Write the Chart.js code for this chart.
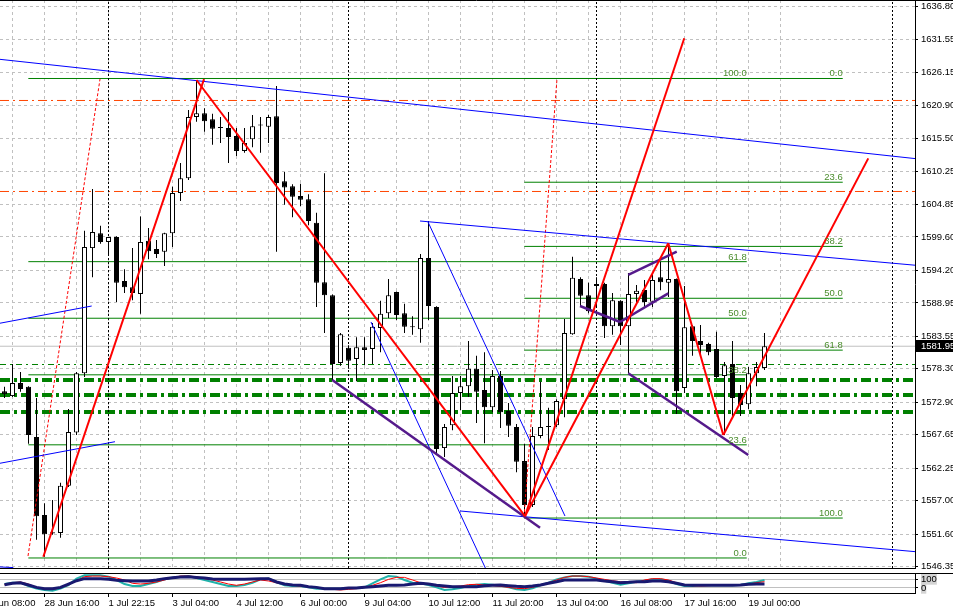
<!DOCTYPE html>
<html>
<head>
<meta charset="utf-8">
<title>XAUUSD H4</title>
<script src="https://cdn.jsdelivr.net/npm/chart.js@4.4.7/dist/chart.umd.min.js"></script>
<style>
  html, body { margin: 0; padding: 0; background: #fff; }
  #wrap { position: relative; width: 953px; height: 611px; overflow: hidden; }
  #priceChart { position: absolute; left: 0; top: 0; }
  #oscChart { position: absolute; left: 0; top: 571px; }
</style>
</head>
<body>
<div id="wrap">
  <canvas id="priceChart" width="953" height="576"></canvas>
  <canvas id="oscChart" width="953" height="40"></canvas>
</div>
<script>
// ===== ローソク足データ（H4, 96本） =====
const candleOpen = [
  1574.7, 1573.9, 1576.0, 1575.4, 1567.3, 1554.7, 1551.7, 1551.8, 1559.4, 1568.0,
  1577.6, 1597.8, 1600.2, 1598.8, 1599.6, 1592.5, 1591.5, 1590.4, 1599.0, 1597.66,
  1597.2, 1600.2, 1606.7, 1609.1, 1619.0, 1619.6, 1618.6, 1617.2, 1617.2, 1615.9,
  1613.5, 1615.4, 1617.7, 1617.4, 1619.1, 1608.6, 1607.8, 1606.2, 1605.7, 1601.9,
  1592.3, 1590.2, 1579.25, 1581.7, 1579.9, 1581.8, 1581.5, 1584.9, 1587.3, 1590.7,
  1587.3, 1585.1, 1584.7, 1596.2, 1588.3, 1565.5, 1569.2, 1574.4, 1575.5, 1578.3,
  1574.9, 1572.1, 1577.15, 1571.5, 1568.9, 1563.4, 1556.3, 1567.45, 1568.9, 1569.2,
  1573.4, 1583.9, 1592.8, 1590.2, 1591.7, 1592.0, 1585.2, 1589.3, 1585.2, 1590.4,
  1591.05, 1589.15, 1593.1, 1592.2, 1592.8, 1575.2, 1585.2, 1582.8, 1582.3, 1581.5,
  1577.15, 1579.1, 1574.4, 1572.6, 1577.6, 1578.45
];
const candleHigh = [
  1575.4, 1579.1, 1577.8, 1575.5, 1573.6, 1556.6, 1557.1, 1559.9, 1571.8, 1577.8,
  1600.6, 1607.35, 1601.4, 1599.6, 1599.7, 1594.4, 1597.8, 1602.9, 1601.05, 1599.1,
  1600.3, 1607.7, 1611.55, 1620.1, 1624.8, 1620.4, 1619.5, 1619.0, 1619.8, 1617.2,
  1617.2, 1619.3, 1619.0, 1619.3, 1624.0, 1610.1, 1608.1, 1608.2, 1606.5, 1603.5,
  1609.9, 1590.3, 1584.1, 1582.1, 1583.4, 1583.4, 1585.7, 1589.3, 1592.8, 1590.8,
  1588.8, 1586.8, 1596.85, 1602.2, 1588.4, 1569.4, 1577.15, 1577.15, 1582.8, 1580.4,
  1581.0, 1578.1, 1577.95, 1572.8, 1569.4, 1566.2, 1568.9, 1576.2, 1572.0, 1573.4,
  1586.35, 1596.4, 1593.1, 1592.2, 1593.1, 1592.2, 1590.55, 1589.4, 1593.8, 1591.85,
  1592.65, 1593.6, 1595.6, 1598.6, 1592.9, 1591.7, 1585.4, 1585.4, 1582.5, 1584.3,
  1579.4, 1582.8, 1575.7, 1578.6, 1579.4, 1584.1
];
const candleLow = [
  1573.6, 1573.75, 1574.6, 1566.2, 1550.7, 1547.95, 1551.5, 1551.0, 1559.2, 1567.6,
  1577.0, 1593.1, 1598.5, 1596.85, 1589.1, 1590.55, 1589.4, 1587.2, 1596.0, 1596.2,
  1594.9, 1598.0, 1605.4, 1608.8, 1618.2, 1616.6, 1614.5, 1614.8, 1611.55, 1612.7,
  1613.2, 1614.1, 1613.2, 1614.8, 1597.2, 1604.8, 1602.8, 1604.6, 1601.5, 1588.3,
  1584.1, 1576.5, 1578.8, 1578.3, 1576.3, 1578.9, 1579.1, 1581.0, 1586.5, 1586.2,
  1584.1, 1583.8, 1582.5, 1586.2, 1564.7, 1564.05, 1568.4, 1571.65, 1573.75, 1569.55,
  1566.3, 1571.3, 1568.75, 1567.3, 1561.6, 1554.4, 1556.0, 1567.1, 1565.2, 1568.9,
  1570.5, 1583.8, 1588.3, 1587.3, 1588.3, 1583.3, 1583.8, 1582.15, 1577.6, 1588.9,
  1588.3, 1588.3, 1591.0, 1589.9, 1571.0, 1574.4, 1580.4, 1580.4, 1580.5, 1576.8,
  1567.6, 1570.5, 1570.7, 1571.8, 1575.5, 1578.1
];
const candleClose = [
  1574.2, 1576.0, 1575.05, 1567.6, 1554.5, 1551.6, 1551.9, 1559.4, 1568.1, 1577.6,
  1598.0, 1600.4, 1598.8, 1599.6, 1592.2, 1591.5, 1590.55, 1598.8, 1597.3, 1596.85,
  1600.2, 1606.7, 1609.1, 1619.0, 1619.6, 1618.3, 1617.1, 1617.25, 1615.75, 1613.5,
  1614.8, 1617.5, 1617.6, 1619.0, 1608.3, 1607.6, 1606.1, 1605.6, 1602.2, 1592.2,
  1590.2, 1579.1, 1583.9, 1579.6, 1581.8, 1581.35, 1585.1, 1587.2, 1590.2, 1587.0,
  1585.1, 1585.0, 1596.2, 1588.45, 1565.35, 1568.9, 1574.4, 1575.5, 1578.3, 1574.6,
  1572.1, 1577.15, 1571.3, 1569.1, 1563.3, 1556.3, 1567.45, 1568.9, 1569.0, 1573.1,
  1584.1, 1593.0, 1590.1, 1587.6, 1592.0, 1585.2, 1589.4, 1585.2, 1590.4, 1590.9,
  1589.1, 1592.65, 1592.3, 1592.8, 1574.7, 1585.0, 1582.8, 1582.15, 1581.0, 1577.0,
  1578.9, 1573.6, 1572.45, 1577.6, 1578.6, 1581.95
];

// ===== 軸ラベル =====
const priceTicks = [
  1636.80, 1631.55, 1626.15, 1620.90, 1615.50, 1610.25, 1604.85, 1599.60, 1594.20,
  1588.95, 1583.55, 1578.30, 1572.90, 1567.65, 1562.25, 1557.00, 1551.60, 1546.35
];
const timeLabels = [
  '27 Jun 08:00', '28 Jun 16:00', '1 Jul 22:15', '3 Jul 04:00', '4 Jul 12:00',
  '6 Jul 00:00', '9 Jul 04:00', '10 Jul 12:00', '11 Jul 20:00', '13 Jul 04:00',
  '16 Jul 08:00', '17 Jul 16:00', '19 Jul 00:00'
];
const timeLabelBars = [-3, 5, 13, 21, 29, 37, 45, 53, 61, 69, 77, 85, 93];
const weekSeparators = [13, 43, 74, 111];

// ===== オシレーター（3本） =====
const oscFast = [
  44, 59, 59, 22, -7, -22, -30, -7, 33, 104,
  141, 141, 141, 126, 89, 44, 22, 22, 44, 67,
  96, 115, 126, 133, 111, 89, 67, 44, 22, 22,
  33, 59, 96, 104, 67, 30, 22, 22, 7, -7,
  -7, -7, -7, -4, 0, 7, 52, 96, 133, 126,
  89, 59, 52, 33, 7, -22, -15, 0, 22, 37,
  44, 37, 26, 7, -15, -22, -4, 30, 59, 96,
  118, 133, 133, 126, 104, 81, 59, 37, 52, 70,
  81, 96, 96, 81, 44, 22, 22, 33, 30, 30,
  30, 30, 33, 52, 67, 89
];
const oscSignal = [
  37, 59, 67, 44, 7, -7, -15, 0, 33, 81,
  126, 133, 133, 126, 111, 89, 52, 44, 52, 67,
  89, 115, 133, 133, 126, 104, 89, 67, 44, 30,
  44, 67, 89, 78, 59, 44, 30, 22, 15, 7,
  -7, -15, -22, -15, -7, 7, 30, 59, 96, 118,
  118, 89, 59, 44, 22, 7, 15, 22, 37, 41,
  33, 26, 19, 7, -4, -7, 7, 30, 59, 89,
  118, 133, 133, 126, 111, 96, 81, 70, 63, 59,
  89, 104, 104, 89, 59, 33, 26, 22, 26, 30,
  30, 30, 30, 44, 59, 70
];
const oscSlow = [
  37, 52, 59, 33, 7, -7, -7, 7, 44, 81,
  104, 104, 104, 96, 85, 81, 78, 78, 78, 89,
  104, 115, 122, 126, 118, 111, 100, 96, 96, 96,
  96, 100, 104, 104, 67, 44, 33, 30, 15, 7,
  -7, -7, -7, 0, 0, 7, 15, 22, 30, 30,
  33, 44, 52, 44, 30, 22, 15, 15, 15, 15,
  26, 30, 33, 26, 19, 15, 22, 33, 52, 70,
  89, 89, 89, 89, 89, 78, 70, 59, 63, 70,
  70, 78, 78, 70, 52, 33, 30, 30, 30, 30,
  30, 30, 33, 41, 44, 44
];
const oscTicks = [100, 0];

// ===== 描画オブジェクト（[バー, 価格, バー, 価格]） =====
const zigzagLines = [
  [4.85, 1547.95, 24.94, 1625.1],
  [24.0, 1624.96, 65.06, 1554.5],
  [65.06, 1554.5, 84.97, 1631.7],
  [65.06, 1554.5, 82.97, 1598.6],
  [82.97, 1598.6, 89.85, 1567.6],
  [89.85, 1567.6, 107.97, 1612.3]
];
const dottedRays = [
  [2.94, 1548.07, 11.94, 1625.12],
  [64.94, 1554.37, 69.06, 1625.12]
];
const blueLines = [
  [-0.6, 1628.3, 113.9, 1612.25],
  [51.94, 1602.18, 113.9, 1595.03],
  [52.94, 1602.02, 70.06, 1554.53],
  [45.81, 1585.87, 60.3, 1545.6],
  [56.94, 1555.34, 113.9, 1548.76],
  [-0.6, 1585.66, 10.9, 1588.45],
  [-0.6, 1563.04, 13.81, 1566.53],
  [-0.6, 1546.3, 1.1, 1546.2]
];
const purpleLines = [
  [40.97, 1576.5, 66.94, 1552.64],
  [77.97, 1577.58, 92.97, 1564.38],
  [71.94, 1588.45, 76.94, 1585.87],
  [76.94, 1585.87, 82.97, 1590.5],
  [77.97, 1593.46, 84.03, 1597.22]
];
const levelOrange = [1621.65, 1606.95];
const levelGreenThin = [1579.0];
const levelGreenThick = [1576.50, 1574.08, 1571.33];

// フィボナッチ（0% と 100% の価格）
const fibLevels = [0, 23.6, 38.2, 50, 61.8, 100];
const fibLeftBars = [2.98, 92.78];
const fibLeftPrices = [1547.75, 1625.2];
const fibRightBars = [64.98, 104.78];
const fibRightPrices = [1625.2, 1554.2];

// ===== 表示設定 =====
const X_MIN = -0.5625, X_MAX = 113.8125;
const Y_MIN = 1546.13, Y_MAX = 1637.88;
const FONT = '"Liberation Sans", Arial, sans-serif';
const FIB_TEXT = '#4a8c2c';

Chart.defaults.animation = false;
Chart.defaults.font.family = FONT;
Chart.defaults.font.size = 9.5;
Chart.defaults.color = '#000';

function seg(x1, y1, x2, y2) {
  return [{ x: x1, y: y1 }, { x: x2, y: y2 }];
}

function lineDs(points, color, width, dash, order) {
  return {
    type: 'line',
    data: points,
    borderColor: color,
    borderWidth: width,
    borderDash: dash || [],
    pointRadius: 0,
    fill: false,
    tension: 0,
    order: order
  };
}

// ===== 枠線・テキスト用プラグイン =====
const framePlugin = {
  id: 'frame',
  afterDraw(chart) {
    const { ctx, chartArea: a } = chart;
    ctx.save();
    ctx.strokeStyle = '#000';
    ctx.lineWidth = 1;
    ctx.beginPath();
    ctx.moveTo(0, a.top + 0.5);
    ctx.lineTo(chart.width, a.top + 0.5);
    ctx.stroke();
    ctx.restore();
  }
};

const fibTextPlugin = {
  id: 'fibText',
  afterDatasetsDraw(chart) {
    const { ctx, scales: { x, y } } = chart;
    ctx.save();
    ctx.font = '9.5px ' + FONT;
    ctx.fillStyle = FIB_TEXT;
    ctx.textAlign = 'right';
    ctx.textBaseline = 'alphabetic';
    [[fibLeftBars, fibLeftPrices], [fibRightBars, fibRightPrices]].forEach(([bars, prices]) => {
      fibLevels.forEach(lv => {
        const p = prices[0] + (prices[1] - prices[0]) * lv / 100;
        ctx.fillText(lv.toFixed(1), x.getPixelForValue(bars[1]), y.getPixelForValue(p) - 2);
      });
    });
    ctx.restore();
  }
};

const priceTagPlugin = {
  id: 'priceTag',
  afterDraw(chart) {
    const { ctx, chartArea: a, scales: { y } } = chart;
    const last = candleClose[candleClose.length - 1];
    const py = Math.round(y.getPixelForValue(last));
    ctx.save();
    ctx.fillStyle = '#000';
    ctx.fillRect(a.right + 1, py - 6, chart.width - a.right - 1, 12);
    ctx.fillStyle = '#fff';
    ctx.font = '9.5px ' + FONT;
    ctx.textAlign = 'left';
    ctx.textBaseline = 'middle';
    ctx.fillText(last.toFixed(2), a.right + 6, py);
    ctx.restore();
  }
};

// ===== 価格チャート =====
function createPriceChart() {
  const bars = candleOpen.map((_, i) => i);
  const datasets = [];

  // 水平ライン・フィボナッチ（背面）
  levelOrange.forEach(p => datasets.push(lineDs(seg(X_MIN, p, X_MAX, p), '#ff4500', 1, [9, 4, 2, 4], 20)));
  levelGreenThin.forEach(p => datasets.push(lineDs(seg(X_MIN, p, X_MAX, p), '#008000', 1, [6, 4, 2, 4], 20)));
  levelGreenThick.forEach(p => datasets.push(lineDs(seg(X_MIN, p, X_MAX, p), '#008000', 4, [10, 4, 3, 4], 20)));
  datasets.push(lineDs(seg(X_MIN, candleClose[candleClose.length - 1], X_MAX, candleClose[candleClose.length - 1]), '#c0c0c0', 1, [], 20));
  [[fibLeftBars, fibLeftPrices], [fibRightBars, fibRightPrices]].forEach(([b, pr]) => {
    fibLevels.forEach(lv => {
      const p = pr[0] + (pr[1] - pr[0]) * lv / 100;
      datasets.push(lineDs(seg(b[0], p, b[1], p), '#008000', 1, [], 20));
    });
  });
  weekSeparators.forEach(k => datasets.push(lineDs(seg(k, Y_MIN, k, Y_MAX), '#000', 1, [2, 2], 19)));

  // ローソク足（ヒゲ＋実体）
  datasets.push({
    type: 'bar',
    data: bars.map(i => ({ x: i, y: [candleLow[i], candleHigh[i]] })),
    backgroundColor: '#000',
    borderWidth: 0,
    barThickness: 1,
    grouped: false,
    inflateAmount: 0,
    order: 12
  });
  datasets.push({
    type: 'bar',
    data: bars.map(i => ({ x: i, y: [candleOpen[i], candleClose[i]] })),
    backgroundColor: bars.map(i => candleClose[i] >= candleOpen[i] ? '#fff' : '#000'),
    borderColor: '#000',
    borderWidth: 1,
    borderSkipped: false,
    barThickness: 5,
    minBarLength: 1,
    grouped: false,
    inflateAmount: 0,
    order: 11
  });

  // トレンドライン（前面）
  blueLines.forEach(l => datasets.push(lineDs(seg(...l), '#0000ff', 1, [], 3)));
  dottedRays.forEach(l => datasets.push(lineDs(seg(...l), '#ff0000', 1, [3, 2], 3)));
  purpleLines.forEach(l => datasets.push(lineDs(seg(...l), '#551a8b', 2.5, [], 2)));
  zigzagLines.forEach(l => datasets.push(lineDs(seg(...l), '#ff0000', 2, [], 1)));

  const gridBars = [];
  timeLabelBars.forEach(b => { gridBars.push(b, b + 4); });

  new Chart(document.getElementById('priceChart'), {
    type: 'bar',
    data: { datasets },
    plugins: [framePlugin, fibTextPlugin, priceTagPlugin],
    options: {
      responsive: false,
      layout: { padding: 0 },
      plugins: { legend: { display: false }, tooltip: { enabled: false } },
      scales: {
        x: {
          type: 'linear',
          min: X_MIN,
          max: X_MAX,
          offset: false,
          afterBuildTicks: s => { s.ticks = gridBars.map(v => ({ value: v })); },
          ticks: { display: false },
          grid: { color: '#c0c0c0', drawTicks: false, offset: false },
          border: { display: true, color: '#000', dash: [3, 3] },
          afterFit: s => { s.height = 8; s.paddingLeft = 0; s.paddingRight = 0; }
        },
        y: {
          type: 'linear',
          position: 'right',
          min: Y_MIN,
          max: Y_MAX,
          beginAtZero: false,
          afterBuildTicks: s => { s.ticks = priceTicks.map(v => ({ value: v })); },
          ticks: { padding: 3, autoSkip: false, callback: v => v.toFixed(2) },
          grid: { color: '#c0c0c0', tickColor: '#000', tickLength: 3 },
          border: { display: true, color: '#000', dash: [3, 3] },
          afterFit: s => { s.width = 38; s.paddingTop = 0; s.paddingBottom = 0; }
        }
      }
    }
  });
}

// ===== オシレーター・時間軸 =====
function createOscChart() {
  const bars = oscFast.map((_, i) => i);
  const pts = arr => bars.map(i => ({ x: i, y: arr[i] }));

  new Chart(document.getElementById('oscChart'), {
    type: 'line',
    data: {
      datasets: [
        lineDs(pts(oscFast), '#20b2aa', 2, [], 3),
        lineDs(pts(oscSignal), '#ff0000', 1, [], 2),
        lineDs(pts(oscSlow), '#191970', 3, [], 1)
      ]
    },
    plugins: [framePlugin],
    options: {
      responsive: false,
      layout: { padding: { top: 2 } },
      plugins: { legend: { display: false }, tooltip: { enabled: false } },
      scales: {
        x: {
          type: 'linear',
          min: X_MIN,
          max: X_MAX,
          offset: false,
          afterBuildTicks: s => { s.ticks = timeLabelBars.map(v => ({ value: v })); },
          ticks: { align: 'start', maxRotation: 0, autoSkip: false, padding: 1, callback: (v, i) => timeLabels[i] },
          grid: { drawOnChartArea: false, drawTicks: true, tickLength: 4, tickColor: '#000', offset: false },
          border: { display: true, color: '#000' },
          afterFit: s => { s.height = 18; s.paddingLeft = 0; s.paddingRight = 0; }
        },
        y: {
          type: 'linear',
          position: 'right',
          min: -55.6,
          max: 166.7,
          afterBuildTicks: s => { s.ticks = oscTicks.map(v => ({ value: v })); },
          ticks: {
            padding: 3,
            autoSkip: false,
            showLabelBackdrop: true,
            backdropColor: '#d4d4d4',
            backdropPadding: 0,
            callback: v => String(v)
          },
          grid: { color: '#c0c0c0', tickColor: '#000', tickLength: 3 },
          border: { display: true, color: '#000' },
          afterFit: s => { s.width = 38; s.paddingTop = 0; s.paddingBottom = 0; }
        }
      }
    }
  });
}

createPriceChart();
createOscChart();
</script>
</body>
</html>
